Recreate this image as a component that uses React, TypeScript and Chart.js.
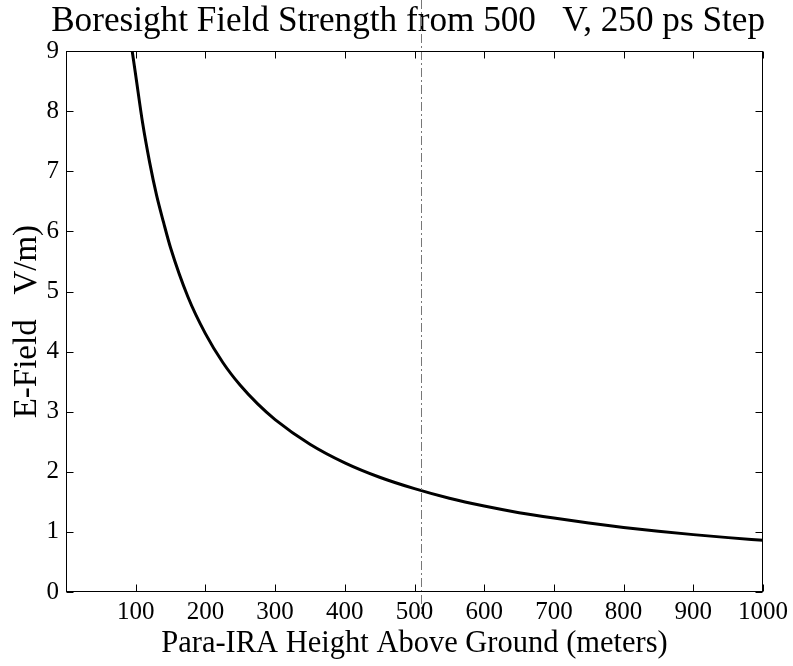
import { useEffect, useRef } from "react";
import { Chart, registerables } from "chart.js";

Chart.register(...registerables);

// Para-IRA height above ground (meters)
const heights = [95, 100, 110, 120, 130, 140, 150, 175, 200, 225, 250, 275, 300, 350, 400, 450, 500, 550, 600, 650, 700, 750, 800, 850, 900, 950, 1000];
// Boresight E-field (V/m as labelled)
const fields = [9.0, 8.6, 7.8, 7.15, 6.6, 6.15, 5.73, 4.91, 4.3, 3.82, 3.44, 3.13, 2.87, 2.46, 2.15, 1.91, 1.72, 1.56, 1.43, 1.32, 1.23, 1.15, 1.075, 1.01, 0.955, 0.905, 0.86];

const xTickValues = [0, 100, 200, 300, 400, 500, 600, 700, 800, 900, 1000];
const yTickValues = [0, 1, 2, 3, 4, 5, 6, 7, 8, 9];

const TITLE = "Boresight Field Strength from 500   V, 250 ps Step";
const X_TITLE = "Para-IRA Height Above Ground (meters)";
const Y_TITLE = "E-Field   V/m)";
const SCAN_LINE_X = 509;

const FONT = "'Liberation Serif', 'Times New Roman', serif";

const boxPlugin = {
  id: "boxTicks",
  afterDraw(chart: any) {
    const { ctx, chartArea } = chart;
    const { left, right, top, bottom } = chartArea;
    const xs = chart.scales.x;
    const ys = chart.scales.y;
    ctx.save();
    // scan artifact dash-dot line
    const sx = Math.round(xs.getPixelForValue(SCAN_LINE_X)) + 0.5;
    ctx.strokeStyle = "#777";
    ctx.lineWidth = 1;
    ctx.setLineDash([9, 3, 2, 3]);
    ctx.beginPath();
    ctx.moveTo(sx, 0);
    ctx.lineTo(sx, bottom + 22);
    ctx.stroke();
    ctx.setLineDash([]);

    ctx.strokeStyle = "#000";
    ctx.lineWidth = 1;
    const L = Math.round(left) + 0.5;
    const R = Math.round(right) - 0.5;
    const T = Math.round(top) + 0.5;
    const B = Math.round(bottom) - 0.5;
    ctx.strokeRect(L, T, R - L, B - T);
    const len = 7;
    ctx.beginPath();
    for (const v of xTickValues) {
      const px = Math.round(xs.getPixelForValue(v)) + 0.5;
      ctx.moveTo(px, B);
      ctx.lineTo(px, B - len);
      ctx.moveTo(px, T);
      ctx.lineTo(px, T + len);
    }
    for (const v of yTickValues) {
      const py = Math.round(ys.getPixelForValue(v)) + 0.5;
      ctx.moveTo(L, py);
      ctx.lineTo(L + len, py);
      ctx.moveTo(R, py);
      ctx.lineTo(R - len, py);
    }
    ctx.stroke();
    ctx.restore();
  },
};

export default function App() {
  const ref = useRef<HTMLCanvasElement | null>(null);

  useEffect(() => {
    if (!ref.current) return;
    const chart = new Chart(ref.current, {
      type: "line",
      data: {
        datasets: [
          {
            data: heights.map((h, i) => ({ x: h, y: fields[i] })),
            borderColor: "#000",
            borderWidth: 3,
            pointRadius: 0,
            cubicInterpolationMode: "monotone",
            fill: false,
          },
        ],
      },
      options: {
        animation: false,
        responsive: true,
        maintainAspectRatio: false,
        layout: { padding: { left: 0, right: 28, top: 0, bottom: 0 } },
        plugins: {
          legend: { display: false },
          tooltip: { enabled: false },
          title: {
            display: true,
            text: TITLE,
            color: "#000",
            fullSize: true,
            align: "end",
            font: { family: FONT, size: 35.2, weight: "normal" },
            padding: { top: 1, bottom: 8 },
          },
        },
        scales: {
          x: {
            type: "linear",
            min: 0,
            max: 1000,
            afterBuildTicks: (s: any) => {
              s.ticks = xTickValues.map((v) => ({ value: v }));
            },
            afterFit: (s: any) => {
              s.height = 74;
            },
            grid: { display: false, drawTicks: false },
            border: { display: false },
            ticks: {
              color: "#000",
              font: { family: FONT, size: 25 },
              padding: 5,
              maxRotation: 0,
              autoSkip: false,
              callback: (v: any) => (v === 0 ? "" : String(v)),
            },
            title: {
              display: true,
              text: X_TITLE,
              color: "#000",
              font: { family: FONT, size: 30.5 },
              padding: { top: 0, bottom: 4 },
            },
          },
          y: {
            type: "linear",
            min: 0,
            max: 9,
            afterBuildTicks: (s: any) => {
              s.ticks = yTickValues.map((v) => ({ value: v }));
            },
            afterFit: (s: any) => {
              s.width = 66;
            },
            grid: { display: false, drawTicks: false },
            border: { display: false },
            ticks: {
              color: "#000",
              font: { family: FONT, size: 25 },
              padding: 7,
              autoSkip: false,
            },
            title: {
              display: true,
              text: Y_TITLE,
              color: "#000",
              font: { family: FONT, size: 33 },
              padding: { top: 8, bottom: 0 },
            },
          },
        },
      },
      plugins: [boxPlugin],
    });
    return () => chart.destroy();
  }, []);

  return (
    <div style={{ position: "fixed", left: 0, top: 0, width: 793, height: 666, background: "#fff" }}>
      <canvas ref={ref} />
    </div>
  );
}
